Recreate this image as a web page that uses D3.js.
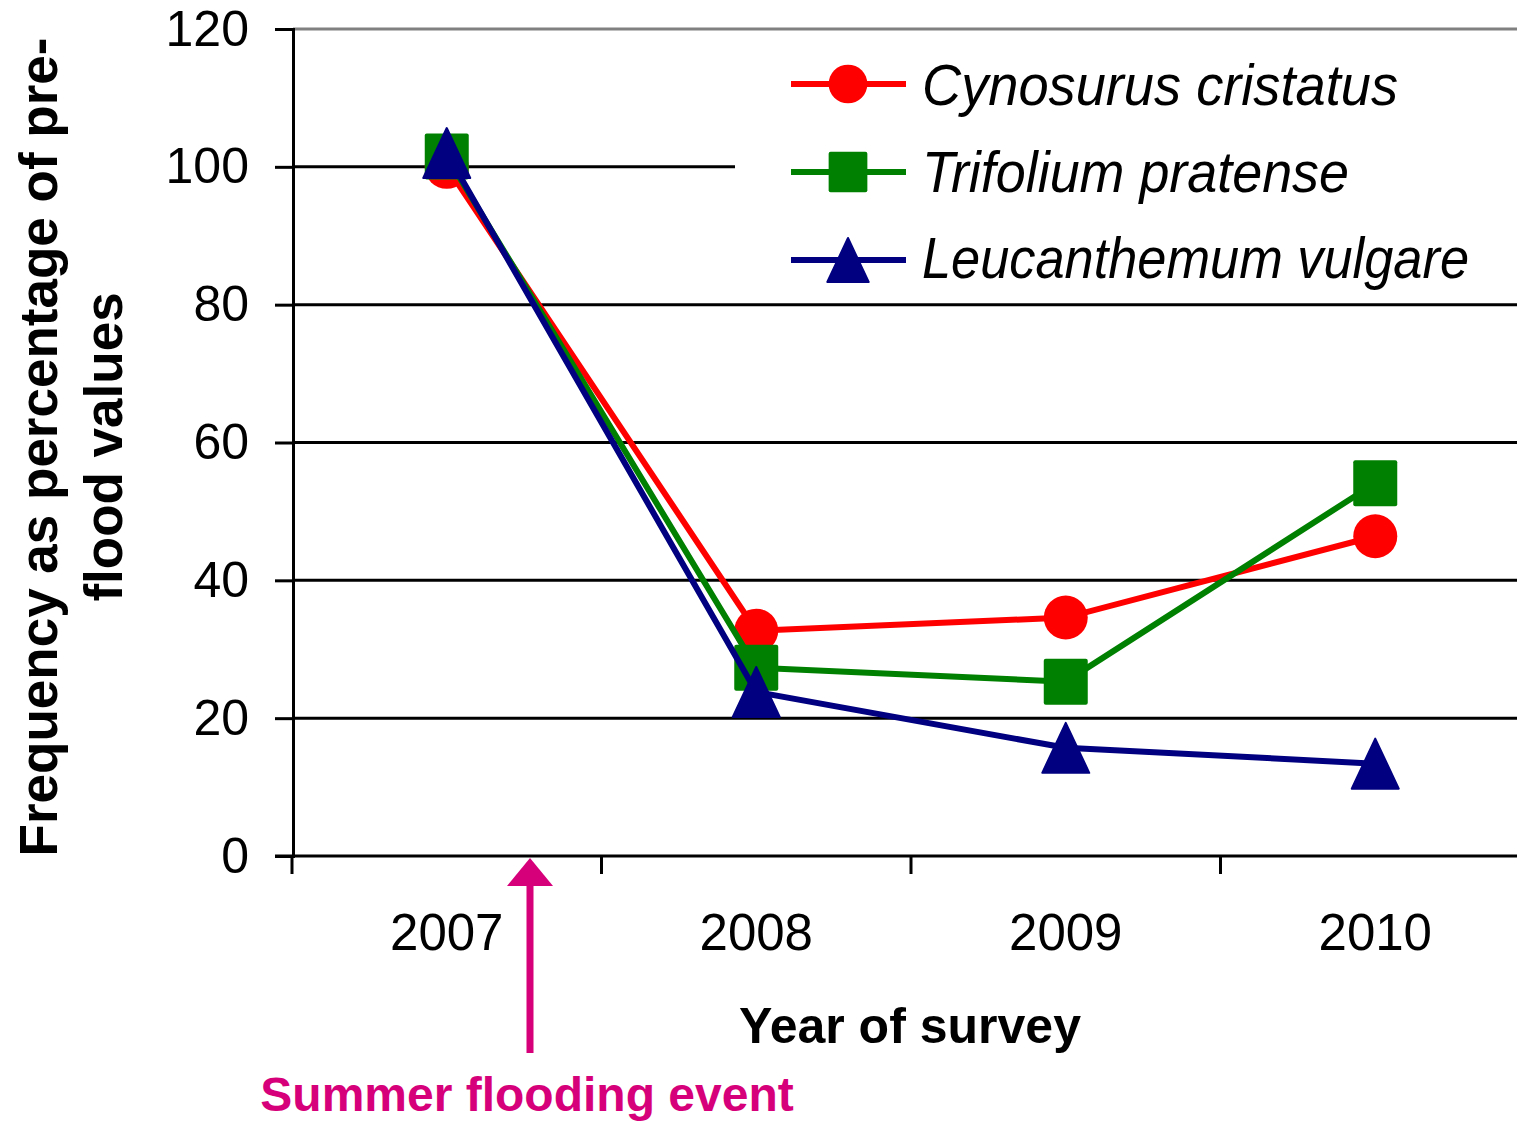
<!DOCTYPE html>
<html>
<head>
<meta charset="utf-8">
<script src="https://cdn.jsdelivr.net/npm/d3@7"></script>
<style>
  body { margin: 0; background: #fff; }
  text { font-family: "Liberation Sans", Arial, sans-serif; }
</style>
</head>
<body>
<div id="chart"></div>
<script>
// Data
var years = ["2007", "2008", "2009", "2010"];
var cynosurus = [100, 32.7, 34.6, 46.4];
var trifolium = [101.5, 27.3, 25.3, 54.1];
var leucanthemum = [102, 23.8, 15.7, 13.4];
var seriesNames = ["Cynosurus cristatus", "Trifolium pratense", "Leucanthemum vulgare"];
var yTicks = [0, 20, 40, 60, 80, 100, 120];

var width = 1517, height = 1121;
var plotLeft = 293, plotTop = 29, plotBottom = 856, plotRight = 1530;

var svg = d3.select("#chart")
    .append("svg")
    .attr("width", width)
    .attr("height", height);

var x = d3.scaleBand()
    .domain(years)
    .range([plotLeft - 1, plotRight]);

var y = d3.scaleLinear()
    .domain([0, 120])
    .range([plotBottom, plotTop]);

// gridlines
svg.append("g").selectAll("line")
    .data(yTicks.filter(function (d) { return d > 0 && d < 120; }))
    .join("line")
    .attr("x1", plotLeft).attr("x2", plotRight)
    .attr("y1", function (d) { return y(d); })
    .attr("y2", function (d) { return y(d); })
    .attr("stroke", "#000")
    .attr("stroke-width", 3);

// top line (grey)
svg.append("line")
    .attr("x1", plotLeft).attr("x2", width)
    .attr("y1", y(120)).attr("y2", y(120))
    .attr("stroke", "#808080")
    .attr("stroke-width", 3);

// y axis
var yAxis = d3.axisLeft(y).tickValues(yTicks).tickSize(18).tickPadding(26);
var gy = svg.append("g")
    .attr("transform", "translate(" + plotLeft + ",0)")
    .call(yAxis);
gy.select(".domain").attr("stroke", "#000").attr("stroke-width", 3);
gy.selectAll(".tick line").attr("stroke", "#000").attr("stroke-width", 3);
gy.selectAll(".tick text")
    .attr("font-size", 50)
    .attr("font-family", "Liberation Sans, Arial, sans-serif")
    .attr("fill", "#000");

// x axis
var xAxis = d3.axisBottom(x).tickSize(0).tickPadding(58);
var gx = svg.append("g")
    .attr("transform", "translate(0," + plotBottom + ")")
    .call(xAxis);
gx.select(".domain").remove();
gx.append("line")
    .attr("x1", plotLeft - 18).attr("x2", plotRight)
    .attr("y1", 0).attr("y2", 0)
    .attr("stroke", "#000").attr("stroke-width", 3);
gx.selectAll(".tick text")
    .attr("font-size", 51)
    .attr("font-family", "Liberation Sans, Arial, sans-serif")
    .attr("fill", "#000");
gx.append("g").selectAll("line")
    .data(years)
    .join("line")
    .attr("x1", function (d) { return x(d); })
    .attr("x2", function (d) { return x(d); })
    .attr("y1", 0).attr("y2", 18)
    .attr("stroke", "#000").attr("stroke-width", 3);

// legend background covers the 100 gridline
svg.append("rect")
    .attr("x", 735).attr("y", 36)
    .attr("width", width - 735).attr("height", 258)
    .attr("fill", "#fff");

var colors = ["#ff0000", "#008000", "#000080"];
var shapes = ["circle", "square", "triangle"];
var allSeries = [cynosurus, trifolium, leucanthemum];

function marker(g, shape, color, s) {
    if (shape === "circle") {
        g.append("circle").attr("r", 22 * s).attr("fill", color);
    } else if (shape === "square") {
        g.append("rect")
            .attr("x", -22 * s).attr("y", -23 * s)
            .attr("width", 44 * s).attr("height", 46 * s)
            .attr("rx", 2).attr("fill", color);
    } else {
        g.append("path")
            .attr("d", "M0," + (-25 * s) + "L" + (23.5 * s) + "," + (25 * s) + "L" + (-23.5 * s) + "," + (25 * s) + "Z")
            .attr("fill", color)
            .attr("stroke", color).attr("stroke-width", 2).attr("stroke-linejoin", "round");
    }
}

var line = d3.line()
    .x(function (d, i) { return x(years[i]) + x.bandwidth() / 2; })
    .y(function (d) { return y(d); });

allSeries.forEach(function (vals, k) {
    svg.append("path")
        .datum(vals)
        .attr("d", line)
        .attr("fill", "none")
        .attr("stroke", colors[k])
        .attr("stroke-width", 6);
    vals.forEach(function (v, i) {
        var g = svg.append("g")
            .attr("transform", "translate(" + (x(years[i]) + x.bandwidth() / 2) + "," + y(v) + ")");
        marker(g, shapes[k], colors[k], 1);
    });
});

// legend
var legendRows = [84, 172, 260];
var legendBase = [105, 192, 278];
var legendLen = [476, 427, 547];
seriesNames.forEach(function (name, k) {
    svg.append("line")
        .attr("x1", 791).attr("x2", 906)
        .attr("y1", legendRows[k]).attr("y2", legendRows[k])
        .attr("stroke", colors[k]).attr("stroke-width", 6);
    var g = svg.append("g").attr("transform", "translate(848," + legendRows[k] + ")");
    marker(g, shapes[k], colors[k], 0.88);
    svg.append("text")
        .attr("x", 922).attr("y", legendBase[k])
        .attr("font-size", 58)
        .attr("font-style", "italic")
        .attr("textLength", legendLen[k])
        .attr("lengthAdjust", "spacingAndGlyphs")
        .text(name);
});

// axis titles
svg.append("text")
    .attr("transform", "translate(57,447) rotate(-90)")
    .attr("text-anchor", "middle")
    .attr("font-size", 53).attr("font-weight", "bold")
    .text("Frequency as percentage of pre-");
svg.append("text")
    .attr("transform", "translate(122,447) rotate(-90)")
    .attr("text-anchor", "middle")
    .attr("font-size", 53).attr("font-weight", "bold")
    .text("flood values");

svg.append("text")
    .attr("x", 910).attr("y", 1043)
    .attr("text-anchor", "middle")
    .attr("font-size", 50).attr("font-weight", "bold")
    .text("Year of survey");

// flood annotation
var floodColor = "#d6007b";
svg.append("line")
    .attr("x1", 530).attr("x2", 530)
    .attr("y1", 1053).attr("y2", 880)
    .attr("stroke", floodColor).attr("stroke-width", 7);
svg.append("path")
    .attr("d", "M530,858L553,886L507,886Z")
    .attr("fill", floodColor);
svg.append("text")
    .attr("x", 527).attr("y", 1111)
    .attr("text-anchor", "middle")
    .attr("font-size", 48).attr("font-weight", "bold")
    .attr("fill", floodColor)
    .text("Summer flooding event");
</script>
</body>
</html>
